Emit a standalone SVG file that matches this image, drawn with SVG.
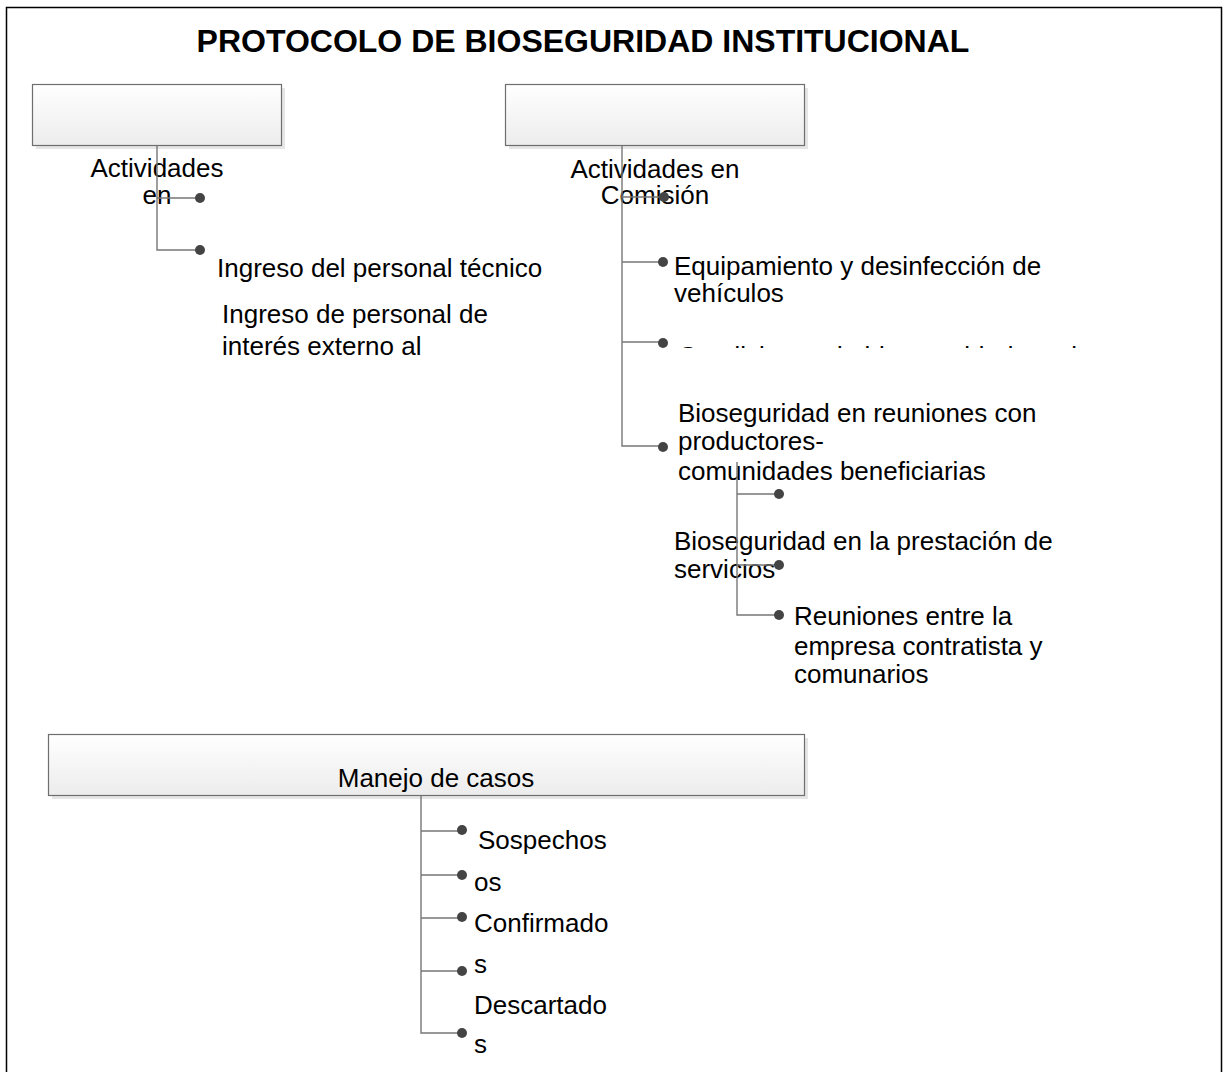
<svg xmlns="http://www.w3.org/2000/svg" width="1227" height="1072" viewBox="0 0 1227 1072">
  <style>
    .t { font-family: "Liberation Sans", Arial, sans-serif; font-size: 26px; fill: #000; }
    .title { font-family: "Liberation Sans", Arial, sans-serif; font-size: 32px; font-weight: bold; fill: #000; }
    .box { fill: url(#boxgrad); stroke: #6e6e6e; stroke-width: 1.2; }
    .shadow { fill: #e6e6e6; }
    .ln { stroke: #777; stroke-width: 1.4; fill: none; }
    .dot { fill: #444; }
  </style>
  <defs>
    <linearGradient id="boxgrad" x1="0" y1="0" x2="0" y2="1">
      <stop offset="0" stop-color="#ffffff"/>
      <stop offset="1" stop-color="#ececec"/>
    </linearGradient>
    <clipPath id="clipCond">
      <rect x="670" y="330" width="435" height="18"/>
    </clipPath>
  </defs>
  <rect width="1227" height="1072" fill="#fff"/>
  <rect x="6.5" y="7.5" width="1215" height="1100" fill="none" stroke="#000" stroke-width="1.5"/>
  <text class="title" x="583" y="52" text-anchor="middle">PROTOCOLO DE BIOSEGURIDAD INSTITUCIONAL</text>

  <g id="node-actividades-en">
    <rect class="shadow" x="36" y="88" width="249" height="61"/>
    <rect class="box" x="32.5" y="84.5" width="249" height="61"/>
    <text class="t" x="157" y="177" text-anchor="middle">Actividades</text>
    <text class="t" x="157" y="204" text-anchor="middle">en</text>
  </g>
  <g id="node-ingreso-tecnico">
    <text class="t" x="217" y="277">Ingreso del personal técnico</text>
  </g>
  <g id="node-ingreso-externo">
    <text class="t" x="222" y="323">Ingreso de personal de</text>
    <text class="t" x="222" y="355">interés externo al</text>
  </g>

  <g id="node-actividades-comision">
    <rect class="shadow" x="509" y="88" width="299" height="61"/>
    <rect class="box" x="505.5" y="84.5" width="299" height="61"/>
    <text class="t" x="655" y="178" text-anchor="middle">Actividades en</text>
    <text class="t" x="655" y="204" text-anchor="middle">Comisión</text>
  </g>
  <g id="node-equipamiento">
    <text class="t" x="674" y="275">Equipamiento y desinfección de</text>
    <text class="t" x="674" y="302">vehículos</text>
  </g>
  <g id="node-condiciones">
    <text class="t" x="678" y="365" clip-path="url(#clipCond)">Condiciones de bioseguridad en el trabajo</text>
  </g>
  <g id="node-reuniones-productores">
    <text class="t" x="678" y="422">Bioseguridad en reuniones con</text>
    <text class="t" x="678" y="450">productores-</text>
    <text class="t" x="678" y="480">comunidades beneficiarias</text>
  </g>
  <g id="node-prestacion">
    <text class="t" x="674" y="550">Bioseguridad en la prestación de</text>
    <text class="t" x="674" y="578">servicios</text>
  </g>
  <g id="node-reuniones-empresa">
    <text class="t" x="794" y="625">Reuniones entre la</text>
    <text class="t" x="794" y="655">empresa contratista y</text>
    <text class="t" x="794" y="683">comunarios</text>
  </g>

  <g id="node-manejo">
    <rect class="shadow" x="52" y="738" width="756" height="61"/>
    <rect class="box" x="48.5" y="734.5" width="756" height="61"/>
    <text class="t" x="436" y="787" text-anchor="middle">Manejo de casos</text>
  </g>
  <g id="node-sospechosos">
    <text class="t" x="478" y="849">Sospechos</text>
    <text class="t" x="474" y="891">os</text>
  </g>
  <g id="node-confirmados">
    <text class="t" x="474" y="932">Confirmado</text>
    <text class="t" x="474" y="973">s</text>
  </g>
  <g id="node-descartados">
    <text class="t" x="474" y="1014">Descartado</text>
    <text class="t" x="474" y="1053">s</text>
  </g>

  <g id="connectors">
    <path class="ln" d="M157 146 V250 H200 M157 198 H200"/>
    <circle class="dot" cx="200" cy="198" r="5"/>
    <circle class="dot" cx="200" cy="250" r="5"/>

    <path class="ln" d="M622 146 V446 H663 M622 197 H664 M622 262 H663 M622 342 H663"/>
    <circle class="dot" cx="664" cy="197" r="5"/>
    <circle class="dot" cx="663" cy="262" r="5"/>
    <circle class="dot" cx="663" cy="343" r="5"/>
    <circle class="dot" cx="663" cy="447" r="5"/>

    <path class="ln" d="M737 462 V615 H779 M737 494 H779 M737 565 H779"/>
    <circle class="dot" cx="779" cy="494" r="5"/>
    <circle class="dot" cx="779" cy="565" r="5"/>
    <circle class="dot" cx="779" cy="615" r="5"/>

    <path class="ln" d="M421 796 V1033 H462 M421 831 H462 M421 875 H462 M421 918 H462 M421 971 H462"/>
    <circle class="dot" cx="462" cy="830" r="5"/>
    <circle class="dot" cx="462" cy="875" r="5"/>
    <circle class="dot" cx="462" cy="917" r="5"/>
    <circle class="dot" cx="462" cy="971" r="5"/>
    <circle class="dot" cx="462" cy="1033" r="5"/>
  </g>
</svg>
